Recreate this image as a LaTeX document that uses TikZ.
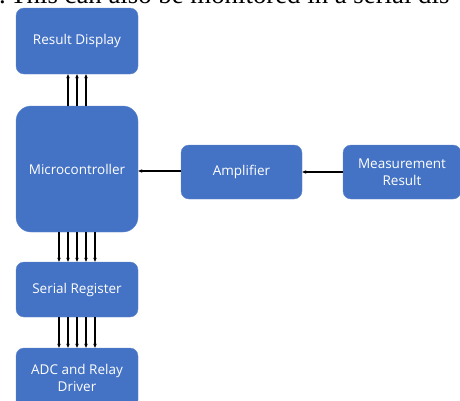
\documentclass[tikz,border=0pt]{standalone}
\usepackage{fontspec}
\setmainfont{Open Sans}
\newfontfamily\serifhead{Liberation Serif}
\usetikzlibrary{arrows.meta}
\definecolor{boxblue}{HTML}{4472C4}
\tikzset{
  blk/.style={fill=boxblue, draw=boxblue!85!white, rounded corners=8pt, text=white, align=center, font=\fontsize{13.5}{17}\selectfont, inner sep=0pt},
  conn/.style={-{Stealth[length=4pt,width=3.5pt]}, line width=1.3pt, black}
}
\begin{document}
\begin{tikzpicture}[x=1pt,y=-1pt]
\useasboundingbox (0,0) rectangle (460,400);
\begin{scope}
\clip (0,0) rectangle (460,400);
\node[anchor=base west, inner sep=0pt, font=\serifhead\fontsize{26.8}{30}\selectfont] (hdr) at (-1,3.5) {.\,This can also be monitored in a serial dis};
\node[blk, minimum width=122pt, minimum height=66pt] (disp) at (77,41) {Result Display};
\node[blk, rounded corners=15pt, minimum width=122pt, minimum height=126pt] (mcu) at (77,169) {Microcontroller};
\node[blk, minimum width=121pt, minimum height=54pt] (amp) at (241.5,172) {Amplifier};
\node[blk, minimum width=118pt, minimum height=54pt] (meas) at (402,172) {Measurement\\Result};
\node[blk, minimum width=122pt, minimum height=55pt] (sreg) at (77,289.5) {Serial Register};
\node[blk, minimum width=122pt, minimum height=60pt] (adc) at (77,378) {ADC and Relay\\Driver};
\end{scope}
% arrows up to display
\foreach \dx in {-9,0,9} {
  \draw[conn] ([xshift=\dx pt]mcu.north) -- ([xshift=\dx pt]disp.south);
}
% arrows down
\foreach \dx in {-18,-9,0,9,18} {
  \draw[conn] ([xshift=\dx pt]mcu.south) -- ([xshift=\dx pt]sreg.north);
  \draw[conn] ([xshift=\dx pt]sreg.south) -- ([xshift=\dx pt]adc.north);
}
\draw[conn] (amp.west |- 0,171) -- (mcu.east |- 0,171);
\draw[conn] (meas.west) -- (amp.east);
\end{tikzpicture}
\end{document}
